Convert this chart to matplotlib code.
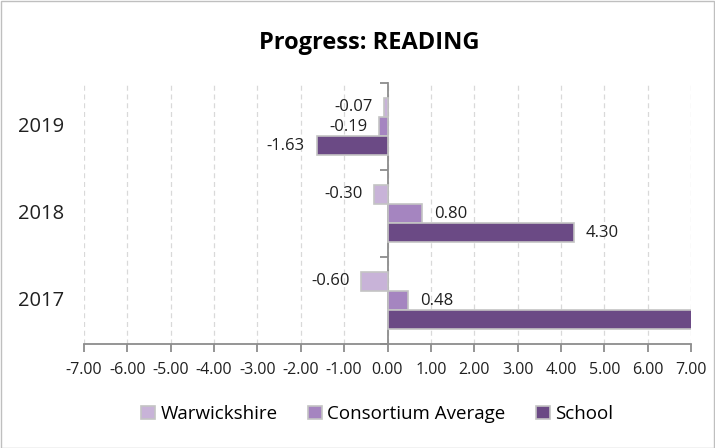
import matplotlib
matplotlib.use("Agg")
import matplotlib.pyplot as plt
import numpy as np
from matplotlib.patches import Rectangle
import matplotlib.transforms as mtransforms

years = ["2017", "2018", "2019"]
series_names = ["Warwickshire", "Consortium Average", "School"]
warwickshire = [-0.60, -0.30, -0.07]
consortium = [0.48, 0.80, -0.19]
school = [7.60, 4.30, -1.63]
xticks = [-7, -6, -5, -4, -3, -2, -1, 0, 1, 2, 3, 4, 5, 6, 7]

colors = ["#c8b3d8", "#a585c0", "#6b4a85"]
edge = "#c4c4c4"

plt.rcParams['font.family'] = ['Open Sans', 'DejaVu Sans']

fig = plt.figure(figsize=(7.15, 4.48), dpi=100)
ax = fig.add_axes([84/715, 104/448, (691-84)/715, (344-83)/448])

y = np.arange(len(years))
w = 0.222
offsets = [w, 0, -w]
data = [warwickshire, consortium, school]
xmin, xmax = -7, 7
for vals, off, c, name in zip(data, offsets, colors, series_names):
    ax.barh(y + off, vals, height=w, color=c, edgecolor=edge, linewidth=1.2, label=name, zorder=3)
    for yi, v in zip(y, vals):
        if v > xmax or v < xmin:
            continue
        if v >= 0:
            ax.annotate(f"{v:.2f}", (v, yi + off), xytext=(12, 0), textcoords="offset pixels",
                        ha="left", va="center", fontsize=12, color="#202020", zorder=4)
        else:
            ax.annotate(f"{v:.2f}", (v, yi + off), xytext=(-12, 0), textcoords="offset pixels",
                        ha="right", va="center", fontsize=12, color="#202020", zorder=4)

ax.set_xlim(xmin, xmax)
ax.set_ylim(-0.5, 2.5)
ax.set_xticks(xticks)
ax.set_xticklabels([f"{t:.2f}" for t in xticks], fontsize=11.5, color="#202020")
for t in xticks:
    ax.axvline(t, color="#d9d9d9", linestyle=(0, (4, 3)), linewidth=0.9, zorder=1)

ax.spines['top'].set_visible(False)
ax.spines['right'].set_visible(False)
ax.spines['left'].set_position(('data', 0))
ax.spines['left'].set_color("#8c8c8c")
ax.spines['bottom'].set_color("#8c8c8c")
ax.spines['left'].set_linewidth(1.3)
ax.spines['bottom'].set_linewidth(1.3)
ax.set_yticks([-0.5, 0.5, 1.5, 2.5])
ax.set_yticklabels([])
ax.tick_params(axis='y', direction='out', length=6, color="#8c8c8c", width=1.3)
ax.tick_params(axis='x', direction='out', length=6, color="#8c8c8c", width=1.3, pad=7)
ax.set_facecolor("none")

trans = mtransforms.blended_transform_factory(fig.transFigure, ax.transData)
for yi, lab in zip(y, years):
    ax.text(18/715, yi, lab, transform=trans, ha="left", va="center", fontsize=14.5, color="#202020")

fig.text(369/715, 1 - 43/448, "Progress: READING", ha="center", va="center", fontsize=17, fontweight="bold", color="#000000")

leg = fig.legend(loc="center", bbox_to_anchor=(377/715, 1 - 414/448), ncol=3, frameon=False,
                 fontsize=13.5, handlelength=0.75, handleheight=0.75, handletextpad=0.3, columnspacing=1.6)
for h in leg.legend_handles:
    h.set_edgecolor(edge)

fig.patches.append(Rectangle((0.5/715, 0.5/448), 1 - 1.5/715, 1 - 1.5/448, transform=fig.transFigure,
                             fill=False, edgecolor="#bfbfbf", linewidth=1))

fig.savefig("out.png", dpi=100)
